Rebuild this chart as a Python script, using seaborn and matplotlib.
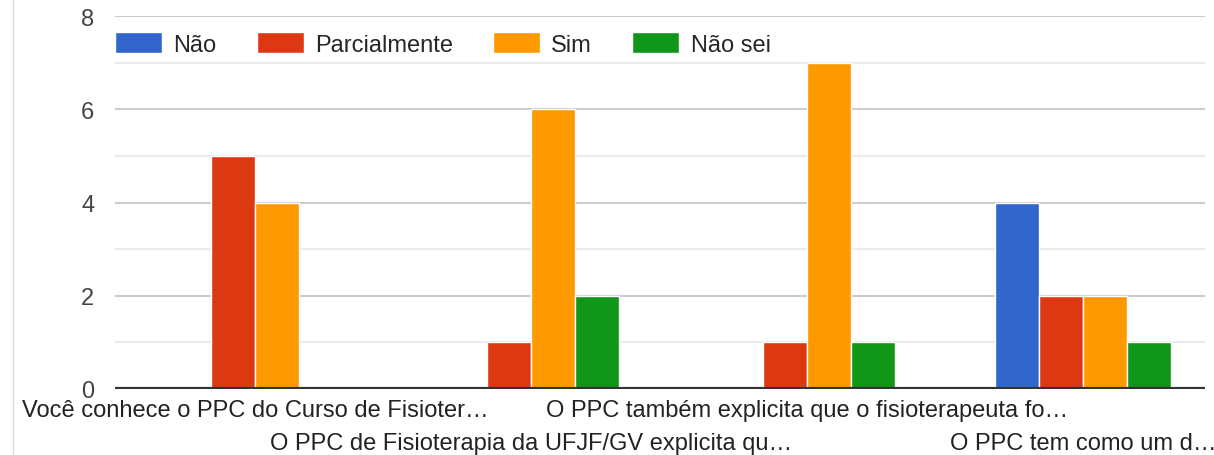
import matplotlib.pyplot as plt
import matplotlib.lines as mlines
import seaborn as sns
import pandas as pd

categories = [
    "Você conhece o PPC do Curso de Fisioter…",
    "O PPC de Fisioterapia da UFJF/GV explicita qu…",
    "O PPC também explicita que o fisioterapeuta fo…",
    "O PPC tem como um d…",
]
answers = ["Não", "Parcialmente", "Sim", "Não sei"]
nao = [0, 0, 0, 4]
parcialmente = [5, 1, 1, 2]
sim = [4, 6, 7, 2]
nao_sei = [0, 2, 1, 1]
colors = ["#3366cc", "#dc3912", "#ff9900", "#109618"]

rows = []
for serie, vals in zip(answers, [nao, parcialmente, sim, nao_sei]):
    for cat, v in zip(categories, vals):
        rows.append({"Pergunta": cat, "Resposta": serie, "Total": v})
df = pd.DataFrame(rows)

sns.set_theme(style="white")
plt.rcParams["font.family"] = ["Liberation Sans", "DejaVu Sans"]

fig = plt.figure(figsize=(12.14, 4.56), dpi=100)
ax = fig.add_axes([115 / 1214, 1 - 390 / 456, 1090 / 1214, 373 / 456])

sns.barplot(data=df, x="Pergunta", y="Total", hue="Resposta", hue_order=answers,
            palette=colors, width=0.64, edgecolor="white", linewidth=1,
            saturation=1, ax=ax, zorder=3)

ax.set_ylim(0, 8)
ax.set_xlim((115 - 255) / 276, (1205 - 255) / 276)
ax.set_yticks([0, 2, 4, 6, 8])
for y in [1, 3, 5, 7]:
    ax.axhline(y, color="#ebebeb", lw=1.5, zorder=1)
for y in [2, 4, 6, 8]:
    ax.axhline(y, color="#cccccc", lw=1.5, zorder=1)
ax.axhline(0, color="#333333", lw=3, zorder=4)

for s in ax.spines.values():
    s.set_visible(False)
ax.set_xlabel("")
ax.set_ylabel("")
ax.tick_params(axis="y", length=0, pad=15, labelsize=17, labelcolor="#444444")
ax.tick_params(axis="x", length=0, labelsize=17, labelcolor="#222222")
ax.set_xticks(range(len(categories)))
ax.set_xticklabels(categories)
for i, tick in enumerate(ax.xaxis.get_major_ticks()):
    tick.set_pad(7 if i % 2 == 0 else 31)

ax.legend(loc="center left", bbox_to_anchor=(0.0, 0.925), ncol=4, frameon=False,
          fontsize=17, handlelength=2.0, handleheight=1.0, handletextpad=0.47,
          columnspacing=1.7, borderaxespad=0, borderpad=0)

fig.add_artist(mlines.Line2D([13 / 1214, 13 / 1214], [0, 1], color="#dddddd", lw=1))

fig.savefig("out.png", dpi=100)
